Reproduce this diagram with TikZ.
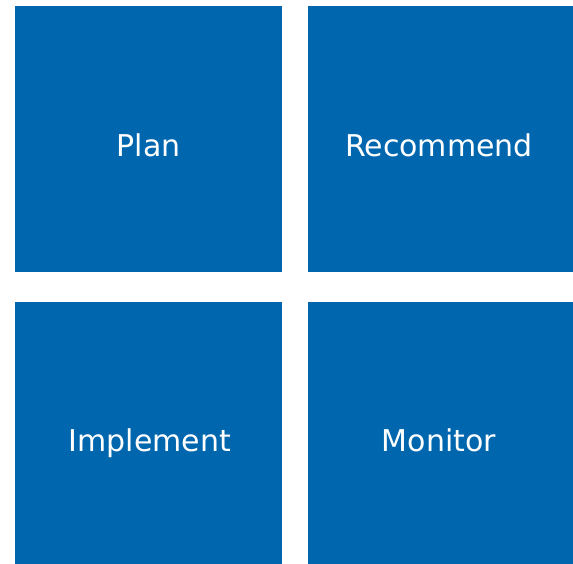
\documentclass[tikz,border=0pt]{standalone}
\usepackage{fontspec}
\setmainfont{DejaVu Sans}
\definecolor{boxblue}{RGB}{0,102,174}
\begin{document}
\begin{tikzpicture}[x=1pt,y=1pt,
  tile/.style={fill=boxblue,draw=none},
  lbl/.style={text=white,font=\fontsize{30}{36}\selectfont,anchor=base,inner sep=0pt}]
\useasboundingbox (0,0) rectangle (573,564);
\fill[tile] (15,564-6) rectangle (282,564-272.5);
\fill[tile] (308,564-6) rectangle (573,564-272.5);
\fill[tile] (15,564-302) rectangle (282,0);
\fill[tile] (308,564-302) rectangle (573,0);
\node[lbl] (plan) at (148.5,564-157) {Plan};
\node[lbl] (rec) at (439,564-157) {Recommend};
\node[lbl] (impl) at (150,564-452) {Implement};
\node[lbl] (mon) at (439,564-452) {Monitor};
\end{tikzpicture}
\end{document}
